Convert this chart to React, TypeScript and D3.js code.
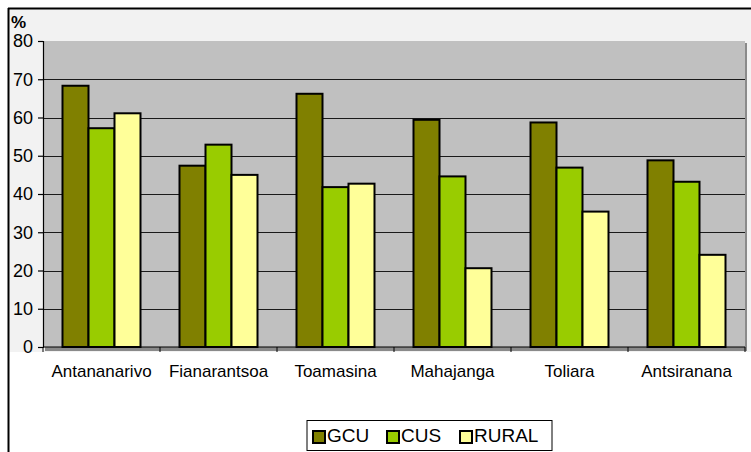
import { useEffect, useRef } from "react";
import * as d3 from "d3";

const categories = ["Antananarivo", "Fianarantsoa", "Toamasina", "Mahajanga", "Toliara", "Antsiranana"];
const seriesKeys = ["GCU", "CUS", "RURAL"];
const gcu = [68.3, 47.4, 66.2, 59.4, 58.7, 48.8];
const cus = [57.2, 52.9, 41.8, 44.6, 46.9, 43.2];
const rural = [61.1, 45.0, 42.7, 20.6, 35.4, 24.1];
const yTicks = [0, 10, 20, 30, 40, 50, 60, 70, 80];
const colors = ["#808000", "#99CC00", "#FFFF99"];

const App = () => {
	const svgRef = useRef(null);

	useEffect(() => {
		document.body.style.margin = "0";
		const width = 751;
		const height = 452;
		const left = 43;
		const right = 745;
		const top = 41;
		const bottom = 347;
		const font = "'Liberation Sans', Arial, sans-serif";

		const rows = categories.map((c, i) => ({ category: c, GCU: gcu[i], CUS: cus[i], RURAL: rural[i] }));

		const x0 = d3.scaleBand().domain(categories).range([left, right]).paddingInner(1 / 3).paddingOuter(1 / 6);
		const x1 = d3.scaleBand().domain(seriesKeys).range([0, x0.bandwidth()]);
		const y = d3.scaleLinear().domain([0, 80]).range([bottom, top]);
		const color = d3.scaleOrdinal().domain(seriesKeys).range(colors);

		const svg = d3.select(svgRef.current).attr("width", width).attr("height", height);
		svg.selectAll("*").remove();

		// chart area background and frame
		svg.append("rect").attr("x", 8).attr("y", 8).attr("width", width).attr("height", 344).attr("fill", "#f2f2f2");
		svg.append("line").attr("x1", 8).attr("x2", width).attr("y1", 8.5).attr("y2", 8.5).attr("stroke", "#000").attr("stroke-width", 2);
		svg.append("line").attr("x1", 8.5).attr("x2", 8.5).attr("y1", 8).attr("y2", height).attr("stroke", "#000").attr("stroke-width", 2);

		// plot area with shadow
		svg.append("rect").attr("x", left + 2).attr("y", top + 2).attr("width", right - left).attr("height", bottom - top + 2).attr("fill", "#8a8a8a");
		svg.append("rect").attr("x", left).attr("y", top).attr("width", right - left).attr("height", bottom - top).attr("fill", "#c0c0c0");

		// grid lines
		svg.append("g")
			.selectAll("line")
			.data(yTicks.filter((t) => t > 0 && t < 80))
			.enter()
			.append("line")
			.attr("x1", left)
			.attr("x2", right)
			.attr("y1", (d) => Math.round(y(d)) + 0.5)
			.attr("y2", (d) => Math.round(y(d)) + 0.5)
			.attr("stroke", "#1a1a1a")
			.attr("stroke-width", 1.2);

		// bars
		svg.append("g")
			.selectAll("g")
			.data(rows)
			.enter()
			.append("g")
			.attr("transform", (d) => `translate(${x0(d.category)},0)`)
			.selectAll("rect")
			.data((d) => seriesKeys.map((k) => ({ key: k, value: d[k] })))
			.enter()
			.append("rect")
			.attr("x", (d) => x1(d.key))
			.attr("y", (d) => y(d.value))
			.attr("width", x1.bandwidth())
			.attr("height", (d) => bottom - y(d.value))
			.attr("fill", (d) => color(d.key))
			.attr("stroke", "#000")
			.attr("stroke-width", 2);

		// y axis
		svg.append("g")
			.attr("transform", `translate(${left},0)`)
			.call(d3.axisLeft(y).tickValues(yTicks).tickSize(5).tickPadding(5))
			.call((g) => g.selectAll("path,line").attr("stroke", "#000").attr("stroke-width", 1.2))
			.call((g) => g.selectAll("text").attr("font-family", font).attr("font-size", 18).attr("fill", "#000"));

		// x axis
		const xAxis = svg.append("g").attr("transform", `translate(0,${bottom})`);
		xAxis.append("line").attr("x1", left).attr("x2", right).attr("stroke", "#000").attr("stroke-width", 1.2);
		xAxis.selectAll(".sep")
			.data(d3.range(categories.length + 1))
			.enter()
			.append("line")
			.attr("x1", (i) => left + i * x0.step())
			.attr("x2", (i) => left + i * x0.step())
			.attr("y1", 0)
			.attr("y2", 5)
			.attr("stroke", "#000");
		xAxis.selectAll("text")
			.data(categories)
			.enter()
			.append("text")
			.attr("x", (d) => x0(d) + x0.bandwidth() / 2)
			.attr("y", 30)
			.attr("text-anchor", "middle")
			.attr("font-family", font)
			.attr("font-size", 17)
			.attr("fill", "#000")
			.text((d) => d);

		// unit label
		svg.append("text").attr("x", 11).attr("y", 28).attr("font-family", font).attr("font-size", 17).attr("font-weight", "bold").text("%");

		// legend
		const legend = svg.append("g");
		legend.append("rect").attr("x", 307).attr("y", 420.5).attr("width", 245).attr("height", 30).attr("fill", "#fff").attr("stroke", "#000").attr("stroke-width", 1);
		const legendX = [313, 387, 460];
		const items = legend.selectAll(".legend-item")
			.data(seriesKeys)
			.enter()
			.append("g")
			.attr("transform", (_, i) => `translate(${legendX[i]},431)`);
		items.append("rect").attr("width", 12).attr("height", 12).attr("fill", (d) => color(d)).attr("stroke", "#000").attr("stroke-width", 2);
		items.append("text").attr("x", 14).attr("y", 11).attr("font-family", font).attr("font-size", 19).attr("fill", "#000").text((d) => d);
	}, []);

	return (
		<div>
			<svg ref={svgRef}></svg>
		</div>
	);
};

export default App;
